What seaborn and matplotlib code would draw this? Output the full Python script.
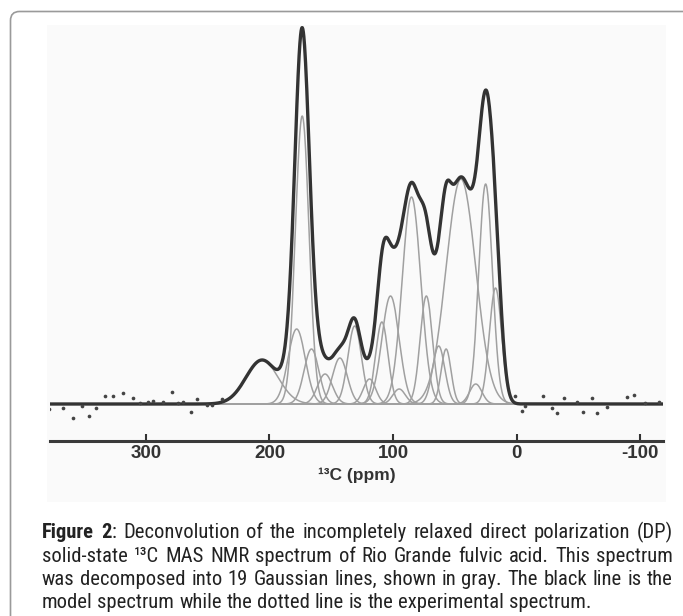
import numpy as np
import pandas as pd
import matplotlib
matplotlib.use("Agg")
import matplotlib.pyplot as plt
import seaborn as sns
from matplotlib import font_manager as fm
from matplotlib.patches import FancyBboxPatch, Rectangle

# ---------------- data ----------------
# 19 Gaussian components (ppm centre, height, sigma in ppm)
comp_center = [206, 178, 173.5, 166, 155, 143, 131, 119, 109, 102, 95, 85, 73, 63, 57, 45, 33, 25, 17]
comp_height = [44, 75, 288, 55, 30, 46, 78, 25, 82, 108, 15, 207, 108, 58, 55, 225, 20, 220, 116]
comp_sigma = [13, 7, 5.5, 6, 6, 6, 5.5, 5, 5, 7, 5, 7.5, 5, 5, 4, 12, 5, 5.5, 5]

# experimental spectrum points visible outside the signal region (dotted line)
exp_ppm = [378.3, 367.0, 358.9, 352.0, 345.9, 340.5, 333.2, 326.5, 318.4, 310.8, 304.9, 298.1,
           294.1, 286.0, 279.2, 273.8, 269.8, 263.6, 258.5, 250.9, 246.8, 238.7,
           1.2, -4.2, -6.9, -21.2, -28.5, -33.0, -38.5, -49.2, -53.6, -60.9, -65.4,
           -73.0, -89.2, -95.4, -104.0, -115.6]
exp_val = [-5.3, -4.3, -14.3, -2.0, -12.0, -4.3, 8.3, 8.0, 10.7, 5.7, 0.7, 2.3,
           3.3, 2.3, 12.3, 1.3, 2.3, -8.3, 5.0, -1.0, -1.0, 5.0,
           8.0, -6.7, -2.0, 8.0, -4.3, -8.7, 5.7, 2.3, -8.3, 5.7, -9.3,
           -2.7, 7.3, 9.0, 0.7, 2.3]

tick_vals = [300, 200, 100, 0, -100]
tick_labels = ["300", "200", "100", "0", "-100"]
x_label = "¹³C (ppm)"

caption_lines = [
    [[("Figure", "bold")], [("2", "bold"), (":", "normal")], "Deconvolution", "of", "the",
     "incompletely", "relaxed", "direct", "polarization", "(DP)"],
    "solid-state ¹³C MAS NMR spectrum of Rio Grande fulvic acid. This spectrum".split(" "),
    "was decomposed into 19 Gaussian lines, shown in gray. The black line is the".split(" "),
    "model spectrum while the dotted line is the experimental spectrum.".split(" "),
]

# ---------------- fonts ----------------
names = {f.name for f in fm.fontManager.ttflist}
narrow = next((n for n in ["Liberation Sans Narrow", "Arial Narrow", "Roboto Condensed",
                           "DejaVu Sans Condensed", "Open Sans Condensed"] if n in names), None)
cap_family = [narrow, "Liberation Sans", "DejaVu Sans"] if narrow else ["Liberation Sans", "DejaVu Sans"]
plt.rcParams["font.family"] = ["Liberation Sans", "DejaVu Sans"]

# ---------------- figure ----------------
W, H = 683, 616
fig = plt.figure(figsize=(W / 100, H / 100), dpi=100)
fig.patch.set_facecolor("white")

bg = fig.add_axes([0, 0, 1, 1])
bg.set_xlim(0, W)
bg.set_ylim(H, 0)
bg.axis("off")
bg.add_patch(FancyBboxPatch((10.5, 11.5), 740, 660, boxstyle="round,pad=0,rounding_size=9",
                            fc="white", ec="#9a9a9a", lw=1.2))
bg.add_patch(Rectangle((47, 25), 619, 477, fc="#fafafa", ec="none"))

ax = fig.add_axes([50 / W, 1 - 441 / H, 613 / W, 416 / H])
ax.patch.set_alpha(0)

ppm = np.arange(-118.6, 377.8, 0.2)
rows = []
model = np.zeros_like(ppm)
for i, (c, h, s) in enumerate(zip(comp_center, comp_height, comp_sigma)):
    g = h * np.exp(-0.5 * ((ppm - c) / s) ** 2)
    model += g
    rows.append(pd.DataFrame({"ppm": ppm, "intensity": g, "component": i}))
comp_df = pd.concat(rows, ignore_index=True)

sns.lineplot(data=comp_df, x="ppm", y="intensity", hue="component",
             palette=["#a0a0a0"] * len(comp_center), legend=False, estimator=None,
             lw=1.1, ax=ax, zorder=2)
sns.lineplot(x=ppm, y=model, color="#333333", lw=2.4, estimator=None, ax=ax, zorder=3)
sns.scatterplot(x=exp_ppm, y=exp_val, color="#444444", s=7, linewidth=0, ax=ax, zorder=4)

ax.set_xlim(377.7, -118.6)
ax.set_ylim(-37, 379)
ax.set_xlabel("")
ax.set_ylabel("")
ax.set_yticks([])
for sp in ["left", "right", "top"]:
    ax.spines[sp].set_visible(False)
ax.spines["bottom"].set_color("#3a3a3a")
ax.spines["bottom"].set_linewidth(2.2)
ax.set_xticks(tick_vals)
ax.set_xticklabels(tick_labels, fontweight="bold", fontsize=13.5, color="#333333")
ax.tick_params(axis="x", direction="in", length=5, width=1.5, color="#333333", pad=3)

fig.text(357 / W, 1 - 480 / H, x_label, ha="center", va="baseline", fontsize=12.5,
         fontweight="bold", color="#333333")

# ---------------- caption ----------------
renderer = fig.canvas.get_renderer()


def word_pieces(w):
    return w if isinstance(w, list) else [(w, "normal")]


def measure(pieces, size):
    total = 0
    for txt, wt in pieces:
        t = fig.text(0, 0, txt, fontsize=size, fontweight=wt, family=cap_family)
        total += t.get_window_extent(renderer).width
        t.remove()
    return total


# fit font size on the last (non-justified) line: from x=42 to x=588
size = 12.0
sp_w = measure([("a a", "normal")], size) - measure([("aa", "normal")], size)
last = caption_lines[3]
nat = sum(measure(word_pieces(w), size) for w in last) + sp_w * (len(last) - 1)
size = size * (588 - 42) / nat

left, right = 42, 673
baselines = [538, 561.5, 585, 608.5]
for li, (words, yb) in enumerate(zip(caption_lines, baselines)):
    widths = [measure(word_pieces(w), size) for w in words]
    if li < 3:
        gap = (right - left - sum(widths)) / (len(words) - 1)
    else:
        gap = measure([("a a", "normal")], size) - measure([("aa", "normal")], size)
    x = left
    for w, wd in zip(words, widths):
        xx = x
        for txt, wt in word_pieces(w):
            t = fig.text(xx / W, 1 - yb / H, txt, fontsize=size, fontweight=wt,
                         family=cap_family, color="#222222", va="baseline", ha="left")
            xx += t.get_window_extent(renderer).width
        x += wd + gap

fig.savefig("out.png", dpi=100, facecolor="white")
